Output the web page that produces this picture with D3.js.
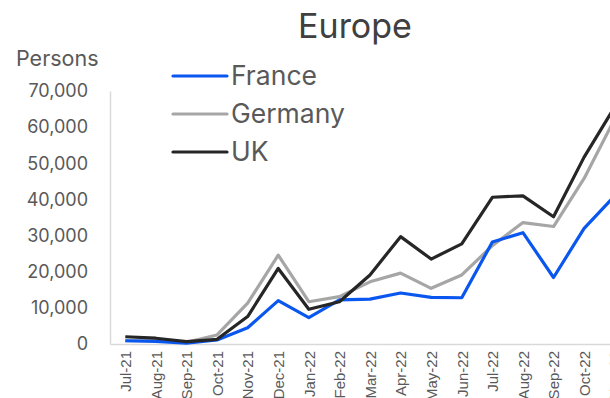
<!DOCTYPE html>
<html>
<head>
<meta charset="utf-8">
<script src="https://cdn.jsdelivr.net/npm/d3@7"></script>
<style>
  html, body { margin: 0; padding: 0; background: #fff; overflow: hidden; }
  svg { display: block; font-family: Inter, "Liberation Sans", Arial, sans-serif; }
</style>
</head>
<body>
<script>
// Monthly arrivals by country, Jul-21 to Nov-22
const months = ["Jul-21","Aug-21","Sep-21","Oct-21","Nov-21","Dec-21","Jan-22","Feb-22","Mar-22","Apr-22","May-22","Jun-22","Jul-22","Aug-22","Sep-22","Oct-22","Nov-22"];
const france  = [900, 700, 250, 1100, 4500, 12000, 7300, 12200, 12400, 14100, 12900, 12800, 28200, 30800, 18400, 32000, 41000];
const germany = [900, 900, 500, 2500, 11300, 24600, 11700, 13100, 17200, 19600, 15400, 19100, 27200, 33600, 32500, 45800, 62300];
const uk      = [2000, 1600, 650, 1300, 7600, 20900, 9600, 11700, 19100, 29700, 23500, 27700, 40600, 41000, 35200, 51700, 65600];
const yTicks  = [0, 10000, 20000, 30000, 40000, 50000, 60000, 70000];

const seriesList = [
  { name: "France",  values: france,  color: "#0A57F0" },
  { name: "Germany", values: germany, color: "#A6A6A6" },
  { name: "UK",      values: uk,      color: "#262626" }
];

const W = 610, H = 398;
const plot = { left: 110, right: 630, top: 91, bottom: 344 };
const FONT = "Inter, Liberation Sans, Arial, sans-serif";

const svg = d3.select("body").append("svg").attr("width", W).attr("height", H);

const x = d3.scalePoint().domain(months).range([plot.left, plot.right]).padding(0.5);
const y = d3.scaleLinear().domain([0, 70000]).range([plot.bottom, plot.top]);

const textColor = "#595959";

// Title
svg.append("text").attr("x", 355).attr("y", 38).attr("text-anchor", "middle")
  .attr("font-size", 34).attr("fill", "#404040").text("Europe");

// Y axis title
svg.append("text").attr("x", 16).attr("y", 66)
  .attr("font-size", 21.5).attr("fill", textColor).text("Persons");

// Y axis
const yAxis = svg.append("g").attr("transform", `translate(${plot.left},0)`)
  .call(d3.axisLeft(y).tickValues(yTicks).tickSize(0).tickPadding(22).tickFormat(d3.format(",")));
yAxis.select(".domain").attr("stroke", "#d9d9d9").attr("stroke-width", 1.5);
yAxis.selectAll("text").attr("font-size", 18).attr("fill", textColor)
  .attr("font-family", FONT);

// X axis (month labels read vertically)
const xAxis = svg.append("g").attr("transform", `translate(0,${plot.bottom})`)
  .call(d3.axisBottom(x).tickSize(0).tickPadding(8));
xAxis.select(".domain").attr("stroke", "#d9d9d9").attr("stroke-width", 1.5);
xAxis.selectAll("text")
  .attr("font-size", 15).attr("fill", textColor)
  .attr("font-family", "Liberation Sans, Arial, sans-serif")
  .attr("transform", "rotate(-90)")
  .attr("text-anchor", "end")
  .attr("dx", "-0.4em").attr("dy", "0.35em").attr("y", 0).attr("x", -1);

// Series lines
const line = d3.line().x((d, i) => x(months[i])).y(d => y(d));
svg.append("g").selectAll("path").data([seriesList[1], seriesList[0], seriesList[2]]).join("path")
  .attr("d", s => line(s.values))
  .attr("fill", "none")
  .attr("stroke", s => s.color)
  .attr("stroke-width", 3.2)
  .attr("stroke-linejoin", "round");

// Legend
const legend = svg.append("g").selectAll("g").data(seriesList).join("g")
  .attr("transform", (d, i) => `translate(173,${76 + i * 38})`);
legend.append("line").attr("x1", 0).attr("x2", 54).attr("y1", 0).attr("y2", 0)
  .attr("stroke", d => d.color).attr("stroke-width", 3.2).attr("stroke-linecap", "round");
legend.append("text").attr("x", 58).attr("y", 0).attr("dy", "0.35em")
  .attr("font-size", 26.5).attr("fill", textColor).text(d => d.name);
</script>
</body>
</html>
